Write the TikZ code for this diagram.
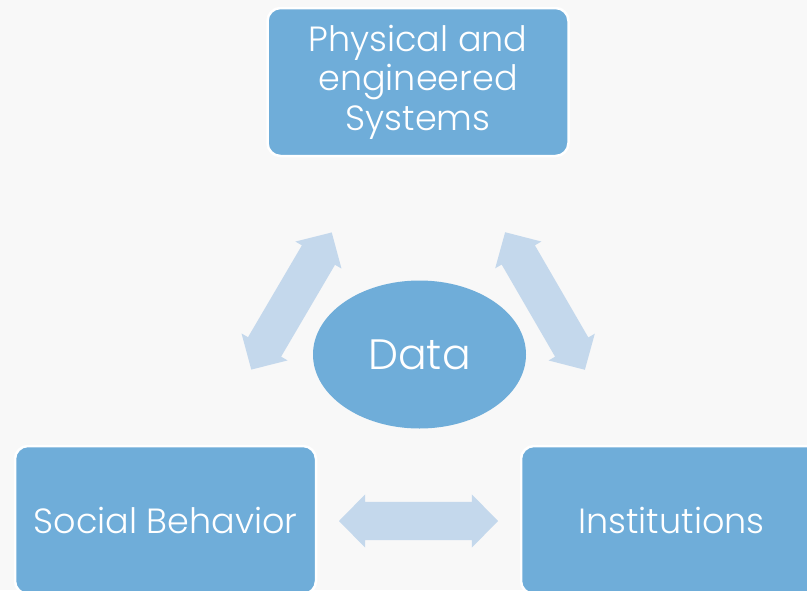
\documentclass[tikz,border=0pt]{standalone}
\usepackage{fontspec}
\setmainfont{Poppins Light}
\usetikzlibrary{shapes.arrows,shapes.geometric}
\definecolor{boxblue}{HTML}{6FADD9}
\definecolor{arrowblue}{HTML}{C4D8EC}
\definecolor{bgcol}{HTML}{F8F8F8}
\tikzset{
  box/.style={draw=white, line width=2.5pt, fill=boxblue, rounded corners=13pt,
    minimum width=301pt, minimum height=148pt, inner sep=0pt, text=white,
    font=\fontsize{35}{39.5}\selectfont, align=center},
  dblarrow/.style={double arrow, fill=arrowblue, draw=none, inner xsep=0pt, inner ysep=19pt,
    minimum height=159pt, double arrow head extend=7.5pt,
    double arrow tip angle=91},
  dataell/.style={ellipse, fill=boxblue, minimum width=213pt, minimum height=148pt,
    inner sep=0pt, text=white, font=\fontsize{42.5}{48}\selectfont}
}
\begin{document}
\begin{tikzpicture}[x=1pt,y=-1pt]
\fill[bgcol] (0,0) rectangle (807,590);
\useasboundingbox (0,0) rectangle (807,590);
\begin{scope}
\clip (0,0) rectangle (807,590);
\node[box] (phys) at (418,82) {Physical and\\engineered\\Systems};
\node[box] (soc) at (165.5,520) {Social Behavior};
\node[box] (inst) at (671.5,520) {Institutions};
\end{scope}
\node[dataell] (data) at (419.5,354.5) {Data};
\node[dblarrow, rotate=59.6] (a1) at (291.5,301) {};
\node[dblarrow, rotate=-59.9] (a2) at (545,301) {};
\node[dblarrow] (a3) at (418.5,521) {};
\end{tikzpicture}
\end{document}
